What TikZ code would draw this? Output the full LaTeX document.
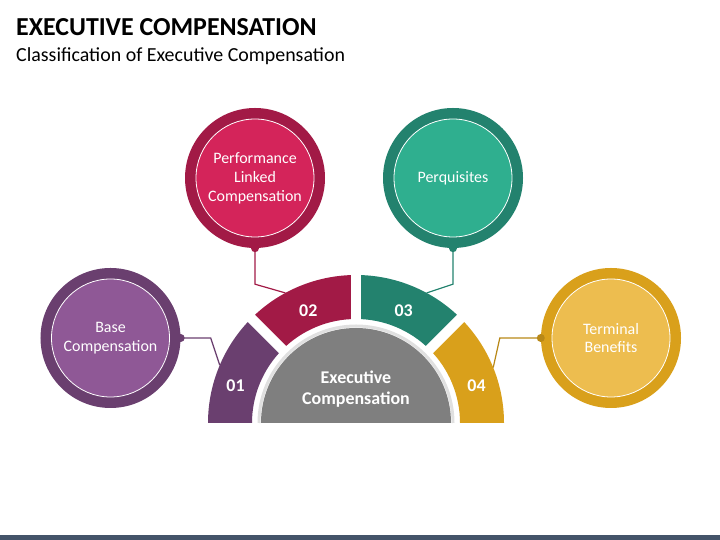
\documentclass[tikz,border=0pt]{standalone}
\usepackage{fontspec}
\setmainfont{Carlito}
\definecolor{pd}{HTML}{6A3F6F}
\definecolor{pl}{HTML}{8F5896}
\definecolor{rd}{HTML}{A21A46}
\definecolor{rl}{HTML}{D4245A}
\definecolor{gd}{HTML}{23826E}
\definecolor{gl}{HTML}{2FAF8F}
\definecolor{yd}{HTML}{D9A01B}
\definecolor{yl}{HTML}{EDBD4F}
\definecolor{cg}{HTML}{7F7F7F}
\definecolor{bar}{HTML}{445469}
\tikzset{
    ring/.style =   {circle,
                    inner sep=0pt,
                    minimum size=140bp},
    disc/.style =   {circle,
                    draw=white,
                    line width=0.8bp,
                    text=white,
                    align=center,
                    inner sep=0pt,
                    minimum size=118bp,
                    font=\fontsize{16}{19}\selectfont},
    num/.style =    {text=white,
                    font=\bfseries\fontsize{18}{22}\selectfont},
    link/.style =   {line width=1.2bp},
    gap/.style =    {draw=white,
                    line width=10bp},
    head/.style =   {anchor=base west,
                    inner sep=0pt,
                    text=black}}

\begin{document}
\begin{tikzpicture}[x=1bp,y=1bp]
                \useasboundingbox (0,0) rectangle (720,540);
                \fill[bar] (0,0) rectangle (720,5);
                \node[head,font=\bfseries\fontsize{26}{30}\selectfont] (T)  at (16,504) {EXECUTIVE COMPENSATION};
                \node[head,font=\fontsize{20}{24}\selectfont]          (St) at (16,478) {Classification of Executive Compensation};
                % half ring
                \coordinate (O) at (356,117);
                \fill[pd] ([shift={(180:148)}]O) arc[start angle=180,end angle=135,radius=148] -- ([shift={(135:104)}]O) arc[start angle=135,end angle=180,radius=104] -- cycle;
                \fill[rd] ([shift={(135:148)}]O) arc[start angle=135,end angle=90,radius=148] -- ([shift={(90:104)}]O) arc[start angle=90,end angle=135,radius=104] -- cycle;
                \fill[gd] ([shift={(90:148)}]O) arc[start angle=90,end angle=45,radius=148] -- ([shift={(45:104)}]O) arc[start angle=45,end angle=90,radius=104] -- cycle;
                \fill[yd] ([shift={(45:148)}]O) arc[start angle=45,end angle=0,radius=148] -- ([shift={(0:104)}]O) arc[start angle=0,end angle=45,radius=104] -- cycle;
                \draw[gap] (O) -- ([shift={(135:160)}]O);
                \draw[gap] (O) -- ([shift={(90:160)}]O);
                \draw[gap] (O) -- ([shift={(45:160)}]O);
                \draw[black!12,line width=3bp] ([shift={(0:97)}]O) arc[start angle=0,end angle=180,radius=97];
                \fill[cg] ([shift={(0:95)}]O) arc[start angle=0,end angle=180,radius=95] -- cycle;
                \node[num,font=\bfseries\fontsize{18}{21}\selectfont,align=center] (E) at (356,151) {Executive\\Compensation};
                \node[num]          (n1) at ([shift={(163:126)}]O) {01};
                \node[num]          (n2) at ([shift={(113:122)}]O) {02};
                \node[num]          (n3) at ([shift={(67:122)}]O)  {03};
                \node[num]          (n4) at ([shift={(17:126)}]O)  {04};
                \coordinate (s1) at ([shift={(157:148)}]O);
                \coordinate (s2) at ([shift={(118.5:148)}]O);
                \coordinate (s3) at ([shift={(61.5:148)}]O);
                \coordinate (s4) at ([shift={(22:148)}]O);
                % circles
                \node[ring,fill=pd] (Ar) at (110.5,202) {};
                \node[ring,fill=rd] (Br) at (255,362)   {};
                \node[ring,fill=gd] (Cr) at (453,362)   {};
                \node[ring,fill=yd] (Dr) at (611,202)   {};
                \node[disc,fill=pl] (A)  at (Ar)        {Base\\Compensation};
                \node[disc,fill=rl] (B)  at (Br)        {Performance\\Linked\\Compensation};
                \node[disc,fill=gl] (C)  at (Cr)        {Perquisites};
                \node[disc,fill=yl] (D)  at (Dr)        {Terminal\\Benefits};
                % links
                \draw[link,pd] (Ar.east) -- ++(30,0)  -- (s1);
                \draw[link,rd] (Br.south) -- ++(0,-36) -- (s2);
                \draw[link,gd] (Cr.south) -- ++(0,-36) -- (s3);
                \draw[link,yd!85!black] (Dr.west) -- ++(-41,0) -- (s4);
                \fill[pd] (Ar.east) circle (4);
                \fill[rd] (Br.south) circle (4);
                \fill[gd] (Cr.south) circle (4);
                \fill[yd!85!black] (Dr.west) circle (4);
        \end{tikzpicture}
\end{document}
